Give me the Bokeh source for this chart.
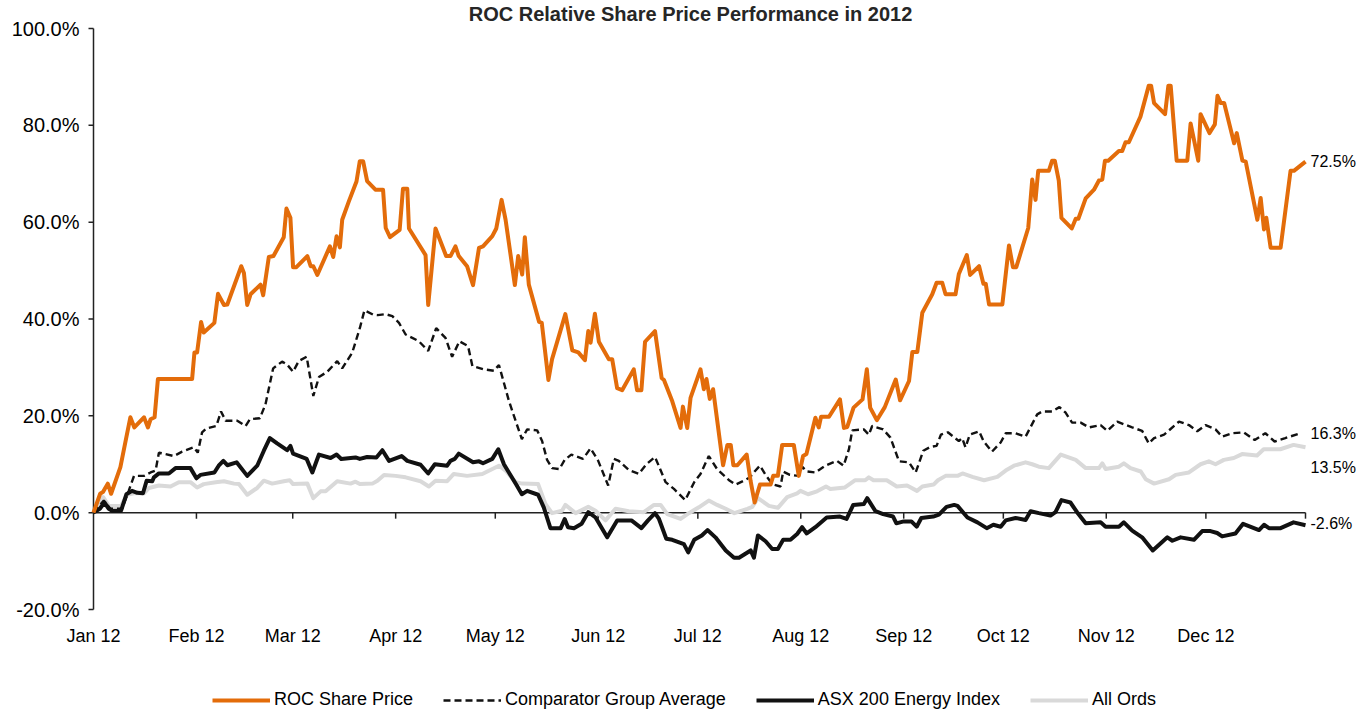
from datetime import date

from bokeh.plotting import figure
from bokeh.models import Range1d, Legend, LegendItem, ColumnDataSource
from bokeh.embed import file_html
from bokeh.resources import INLINE

FONT = "Liberation Sans"

# ---------------- axis categories ----------------
YEAR_START = date(2012, 1, 1)
YEAR_END = date(2012, 12, 31)
MONTH_STARTS = [date(2012, m, 1) for m in range(1, 13)]
month_days = [(d - YEAR_START).days for d in MONTH_STARTS]
month_labels = [d.strftime("%b %y") for d in MONTH_STARTS]
end_day = (YEAR_END - YEAR_START).days
y_ticks = [-20, 0, 20, 40, 60, 80, 100]
y_tick_labels = [f"{t:.1f}%" for t in y_ticks]
y_lo, y_hi = -20, 100

# ---------------- series (day of year since 1 Jan 2012, % change) ----------------
roc_day = [0, 2.0, 2.9, 4.3, 5.3, 8.1, 9.9, 11.1, 12.3, 15.2, 16.4, 17.2, 18.4, 19.4, 29.7, 30.4, 31.2,
           32.4, 33.2, 36.4, 37.5, 39.3, 40.3, 44.5, 45.3, 46.3, 47.3, 50.3, 51.1, 52.8, 54.2, 57.3,
           58.1, 59.3, 60.1, 61.1, 64.4, 65.4, 66.2, 67.4, 71.2, 72.2, 73.2, 74.2, 74.9, 76.9, 79.2,
           80.2, 81.2, 82.4, 84.9, 87.2, 88.0, 89.3, 92.2, 93.2, 94.5, 95.0, 100.0, 100.8, 103.0,
           106.2, 107.5, 109.0, 110.0, 112.5, 114.3, 116.1, 117.3, 120.1, 121.3, 122.9, 124.1, 126.9,
           127.9, 129.1, 129.9, 131.1, 134.2, 135.0, 137.0, 138.1, 142.1, 144.2, 146.0, 148.0, 149.0,
           149.7, 151.0, 152.2, 155.2, 156.2, 157.7, 159.2, 162.7, 163.7, 165.0, 166.1, 169.1, 171.1,
           171.8, 174.3, 176.8, 177.5, 178.8, 179.8, 182.8, 183.8, 184.6, 185.6, 186.6, 189.6, 190.9,
           191.9, 192.7, 193.9, 196.7, 197.9, 199.1, 200.7, 203.9, 204.7, 206.1, 207.4, 210.9, 212.4,
           213.7, 214.7, 217.4, 218.4, 219.1, 221.5, 224.8, 226.0, 227.0, 228.9, 231.6, 232.9, 233.9,
           235.9, 238.3, 241.6, 242.9, 245.6, 246.6, 248.1, 249.6, 252.6, 253.9, 255.6, 256.6, 259.6,
           260.6, 263.0, 264.0, 266.7, 268.0, 268.7, 269.7, 273.7, 275.7, 276.9, 277.9, 281.5, 282.7,
           283.7, 284.5, 287.7, 288.7, 289.5, 290.7, 291.5, 294.6, 295.8, 296.6, 298.8, 301.3, 302.8,
           303.8, 304.6, 305.6, 308.8, 309.8, 310.8, 311.8, 315.3, 317.8, 318.5, 319.4, 322.7, 323.7,
           324.4, 326.2, 329.4, 330.4, 332.7, 333.4, 336.1, 337.7, 338.5, 339.5, 340.5, 343.5, 344.3,
           346.0, 347.0, 350.5, 351.5, 352.5, 353.2, 354.5, 357.5, 360.5, 361.5, 365.0]
roc_val = [0, 3.9, 4.3, 6.0, 3.9, 9.4, 15.6, 19.7, 17.6, 19.7, 17.6, 19.3, 19.7, 27.6, 27.6, 33.1, 33.1,
           39.4, 37.2, 39.2, 45.2, 42.9, 43.0, 50.9, 49.5, 42.9, 45.1, 47.1, 44.9, 52.8, 53.0, 56.9,
           62.8, 60.9, 50.7, 50.7, 53.0, 50.9, 50.9, 49.1, 55.0, 52.8, 57.1, 54.8, 60.5, 64.3, 68.4,
           72.6, 72.6, 68.5, 66.7, 66.7, 58.8, 56.9, 58.4, 66.9, 66.9, 58.7, 53.2, 42.9, 58.7,
           53.0, 53.0, 55.0, 53.0, 50.9, 47.0, 54.7, 55.0, 57.1, 58.7, 64.6, 60.5, 47.0,
           53.0, 49.2, 56.9, 47.1, 39.4, 39.2, 27.4, 31.7, 41.0, 33.5, 33.1, 31.5, 37.5,
           35.1, 41.1, 35.3, 31.7, 31.7, 25.7, 25.3, 29.6, 25.3, 25.3, 35.3, 37.5, 27.8,
           27.4, 23.0, 17.5, 21.9, 17.5, 23.7, 29.6, 25.5, 27.6, 23.5, 25.5, 9.8, 14.0,
           14.0, 9.8, 9.8, 12.0, 6.5, 2.1, 5.8, 5.8, 7.6, 7.6, 14.0, 14.0, 7.6,
           11.7, 12.1, 19.6, 17.6, 19.8, 19.8, 23.4, 17.5, 17.7, 21.7, 23.4, 29.6, 21.7,
           19.1, 21.8, 27.5, 23.2, 27.2, 33.2, 33.2, 41.3, 45.1, 47.5, 47.5, 45.1, 45.1,
           49.3, 53.2, 49.1, 50.9, 47.3, 47.3, 43.0, 43.0, 55.2, 50.7, 50.7, 58.8, 68.8,
           64.6, 70.6, 70.6, 72.7, 72.7, 68.6, 60.9, 58.7, 60.7, 60.7, 64.9, 66.7, 68.6,
           68.8, 72.7, 72.7, 74.7, 74.7, 76.5, 76.5, 81.8, 88.2, 88.2, 84.6, 82.3, 88.2,
           88.2, 72.7, 72.7, 80.4, 72.7, 82.3, 78.4, 80.2, 86.1, 84.6, 84.6, 76.3, 78.4,
           72.7, 72.5, 60.5, 65.0, 58.5, 60.9, 54.7, 54.7, 70.6, 70.6, 72.5]

comp_day = [0, 3.1, 5.1, 8.6, 10.6, 12.2, 15.2, 17.2, 18.7, 19.7, 24.2, 26.7, 30.2, 31.4, 32.7, 34.0,
            37.0, 38.4, 39.8, 43.3, 45.8, 47.1, 50.1, 51.8, 54.1, 56.8, 58.3, 60.1, 61.8, 64.2, 66.2,
            67.9, 70.4, 73.4, 74.9, 77.9, 80.2, 81.6, 84.2, 85.6, 88.0, 90.0, 92.0, 94.0, 98.0, 100.8,
            103.2, 106.0, 108.0, 110.2, 112.8, 114.1, 117.6, 120.6, 122.1, 125.1, 127.3, 129.0, 130.6,
            133.6, 135.1, 136.6, 138.1, 140.3, 141.9, 143.9, 147.4, 149.7, 152.0, 155.0, 156.7, 158.2,
            161.2, 164.2, 166.5, 169.1, 172.3, 174.8, 178.2, 180.9, 182.8, 185.3, 187.8, 191.4, 193.4,
            195.9, 197.7, 199.1, 200.7, 202.4, 204.4, 206.9, 207.7, 209.7, 212.4, 213.4, 214.9, 217.4,
            220.4, 223.9, 225.9, 227.5, 228.5, 232.0, 233.5, 234.5, 237.8, 240.0, 242.6, 245.6, 247.6,
            249.9, 252.1, 253.9, 255.2, 257.3, 260.6, 261.6, 262.6, 263.9, 266.7, 268.1, 270.6, 273.2,
            274.7, 277.7, 280.7, 284.2, 285.7, 288.7, 290.9, 292.7, 294.7, 297.3, 299.8, 303.3, 305.3,
            308.3, 312.8, 315.8, 317.8, 319.4, 322.4, 326.9, 329.9, 332.4, 334.9, 337.9, 339.9, 342.9,
            346.4, 349.7, 352.9, 355.7, 358.9, 363.0]
comp_val = [0, 2.5, 0.8, 0.8, 4.5, 7.6, 7.6, 8.3, 8.7, 12.4, 11.7, 12.6, 13.5, 12.4, 16.6, 17.4,
            17.9, 20.9, 19.0, 19.0, 17.9, 19.3, 19.5, 22.4, 29.8, 31.2, 30.6, 29.1, 31.3, 32.2, 24.1,
            28.0, 29.1, 31.3, 29.8, 33.0, 38.1, 41.8, 40.9, 40.8, 41.0, 40.6, 39.2, 36.8, 35.4, 33.4,
            38.1, 36.1, 32.2, 35.4, 34.4, 30.3, 29.6, 29.3, 30.5, 23.1, 18.6, 15.2, 17.2,
            17.0, 14.8, 10.9, 9.2, 9.0, 10.9, 12.0, 11.1, 13.3, 10.7, 5.6, 11.1, 10.7,
            8.8, 8.0, 10.0, 11.5, 6.3, 4.9, 2.6, 6.3, 8.0, 11.7, 9.0, 6.7, 5.8,
            6.6, 7.3, 8.5, 9.7, 7.8, 5.9, 5.4, 8.5, 7.8, 7.6, 9.5, 8.5, 8.3,
            9.7, 10.7, 9.7, 13.1, 17.0, 17.2, 16.1, 17.9, 17.2, 15.5, 10.6, 10.4, 8.3,
            12.8, 13.6, 13.8, 16.1, 16.6, 14.8, 15.4, 13.5, 16.1, 16.8, 14.7, 12.6, 14.5,
            16.4, 16.4, 15.7, 20.3, 20.9, 20.9, 21.8, 20.7, 18.6, 18.6, 17.6, 18.1, 16.9,
            18.8, 17.6, 16.9, 14.3, 15.4, 16.1, 18.8, 18.1, 16.8, 18.1, 17.2, 15.7, 16.4,
            16.6, 15.0, 16.4, 14.7, 15.4, 16.3]

asx_day = [0, 1.9, 3.3, 4.6, 5.6, 8.3, 9.9, 11.6, 13.2, 14.9, 16.0, 17.7, 18.2, 19.7, 22.7, 24.7, 29.2,
           31.0, 32.2, 36.4, 37.7, 39.1, 40.3, 43.1, 46.3, 49.3, 51.3, 53.1, 55.3, 58.3, 59.3, 60.1,
           64.2, 65.9, 67.9, 71.4, 73.2, 74.6, 78.9, 80.2, 82.4, 85.2, 87.0, 89.0, 92.8, 94.5, 98.5,
           100.8, 102.8, 106.5, 107.5, 108.8, 110.0, 114.3, 116.1, 117.3, 120.1, 121.9, 123.6, 125.1,
           127.3, 129.0, 130.6, 133.9, 135.6, 137.6, 140.7, 141.9, 142.9, 144.7, 147.0, 149.0, 151.2,
           154.7, 157.7, 162.0, 165.0, 167.0, 169.1, 170.3, 172.5, 174.3, 177.8, 179.1, 180.9, 183.2,
           184.9, 187.3, 190.4, 192.9, 194.4, 197.9, 198.9, 200.1, 202.4, 204.4, 206.1, 207.7, 209.9,
           211.9, 213.4, 214.8, 217.4, 220.8, 224.8, 226.8, 228.8, 232.0, 233.0, 235.5, 237.8, 240.8,
           241.8, 244.0, 246.3, 247.9, 249.3, 252.9, 254.6, 256.9, 259.2, 260.2, 263.2, 266.2, 269.0,
           271.0, 273.2, 274.7, 277.7, 280.7, 282.2, 284.7, 288.2, 289.7, 291.5, 294.2, 296.2, 298.8,
           303.3, 304.8, 308.8, 310.3, 312.8, 315.8, 319.0, 323.4, 324.9, 327.4, 331.4, 333.9, 336.4,
           338.4, 339.9, 343.9, 346.2, 351.0, 352.5, 354.0, 357.5, 361.4, 365.0]
asx_val = [0, 0.8, 2.1, 0.8, 0.4, 0.4, 3.8, 4.5, 4.1, 4.0, 6.6, 6.5, 7.3, 8.1, 8.1, 9.2, 9.2,
           7.1, 7.8, 8.3, 9.7, 10.7, 9.8, 10.4, 7.6, 9.7, 12.8, 15.4, 14.3, 12.9, 13.8, 12.2,
           11.1, 8.3, 12.0, 11.3, 12.0, 11.1, 11.4, 11.1, 11.5, 11.4, 12.9, 10.7, 11.7, 10.7, 9.9,
           8.1, 10.0, 9.7, 10.7, 11.1, 12.2, 10.4, 10.6, 10.2, 11.1, 13.1, 10.0, 8.3,
           5.8, 3.8, 4.5, 3.7, 1.1, -3.2, -3.2, -1.3, -3.0, -3.2, -2.3, 0.1, -1.0,
           -5.1, -1.6, -1.6, -3.2, -1.6, -0.1, -1.3, -5.4, -5.6, -6.5, -8.2, -5.6, -4.7,
           -3.6, -5.1, -7.8, -9.3, -9.3, -7.8, -9.3, -4.7, -5.9, -7.5, -7.5, -5.6, -5.6,
           -4.4, -3.0, -4.3, -3.0, -1.0, -0.8, -1.3, 1.6, 1.8, 3.0, 0.3, -0.3, -0.8,
           -2.2, -1.8, -1.8, -2.9, -1.1, -0.8, -0.4, 1.2, 1.6, 1.4, -1.0, -2.0, -3.2,
           -2.5, -2.9, -1.6, -1.1, -1.5, 0.3, -0.1, -0.6, 0.1, 2.6, 2.1, 0.1, -2.2,
           -2.0, -2.9, -2.9, -2.0, -3.7, -5.1, -7.8, -5.1, -5.8, -5.1, -5.6, -3.8, -3.8,
           -4.2, -4.9, -4.3, -2.3, -3.6, -2.5, -3.2, -3.2, -2.0, -2.6]

ords_day = [0, 2.9, 4.6, 8.3, 10.1, 12.2, 15.2, 16.7, 19.7, 23.2, 25.7, 29.2, 31.2, 33.2, 36.8, 39.3,
            42.3, 43.8, 46.3, 49.3, 51.3, 53.8, 57.3, 59.1, 60.1, 64.4, 66.2, 68.4, 69.9, 73.4, 77.4,
            78.9, 80.2, 84.0, 85.5, 87.5, 91.0, 94.0, 98.5, 101.0, 103.0, 106.5, 108.5, 112.5, 117.1,
            122.1, 124.1, 127.1, 129.1, 133.9, 136.1, 138.1, 141.1, 142.1, 145.2, 149.0, 151.2, 154.2,
            157.2, 161.2, 165.7, 168.8, 170.8, 172.8, 176.8, 179.3, 182.3, 185.3, 187.8, 190.4, 193.0,
            196.9, 198.4, 200.1, 203.4, 206.1, 208.9, 211.9, 212.9, 215.2, 217.9, 220.6, 221.9, 226.3,
            229.4, 232.4, 233.5, 234.9, 238.9, 241.9, 245.0, 248.0, 249.6, 253.0, 254.3, 256.6, 260.2,
            261.7, 264.7, 268.2, 272.2, 274.7, 277.2, 280.7, 282.7, 284.7, 287.7, 291.3, 295.8, 298.8,
            302.8, 303.8, 304.8, 308.8, 310.3, 312.3, 315.4, 316.9, 319.4, 323.9, 325.9, 329.9, 333.4,
            335.9, 337.9, 340.4, 343.4, 345.9, 350.4, 352.4, 357.4, 361.4, 365.0]
ords_val = [0, 3.2, 1.4, 1.4, 3.7, 4.0, 4.0, 5.1, 5.6, 5.4, 6.3, 6.3, 5.2, 5.9, 6.3, 6.5,
            6.0, 5.9, 3.7, 5.1, 6.6, 6.0, 6.5, 6.7, 5.9, 6.0, 3.0, 4.4, 4.4, 6.5, 6.0,
            6.4, 5.9, 6.0, 6.6, 7.8, 7.6, 7.3, 6.5, 5.4, 6.6, 6.5, 8.0, 7.6, 8.0,
            9.7, 8.7, 6.3, 6.0, 5.9, 1.8, -0.1, 0.4, 1.6, -0.1, 1.2, 0.4, -1.6,
            0.8, 0.3, 0.1, 1.6, 1.6, -0.3, -1.3, -0.1, 1.1, 2.5, 1.6, 0.8, -0.1,
            0.8, 1.2, 3.0, 1.4, 1.0, 3.2, 4.0, 4.5, 3.8, 4.4, 5.4, 4.9, 5.2,
            6.7, 6.7, 7.3, 6.7, 6.7, 5.4, 5.6, 4.5, 5.4, 5.8, 6.7, 7.6, 7.6,
            8.1, 7.4, 6.7, 7.4, 8.7, 9.7, 10.4, 10.0, 9.5, 9.2, 12.0, 10.9, 9.2,
            9.2, 10.2, 9.0, 9.5, 10.2, 9.2, 8.5, 6.9, 6.0, 6.9, 7.8, 8.3, 10.0,
            10.6, 10.0, 10.9, 11.3, 12.1, 11.8, 13.1, 13.1, 14.0, 13.5]

series_names = ["ROC Share Price", "Comparator Group Average", "ASX 200 Energy Index", "All Ords"]
chart_title = "ROC Relative Share Price Performance in 2012"

ORANGE = "#E36C0A"
BLACK = "#111111"
GREY = "#D9D9D9"
AXIS = "#222222"

# ---------------- layout (pixels) ----------------
W, H = 1356, 712
LEFT, TOP = 93, 28                   # position of the (Jan 1, 100%) corner
PLOT_W, PLOT_H = 1212, 581           # size of the year x (-20..100%) box
px_day = PLOT_W / end_day
px_unit = PLOT_H / (y_hi - y_lo)
x_min = -LEFT / px_day
x_max = x_min + W / px_day
y_max = y_hi + TOP / px_unit
y_min = y_max - H / px_unit

p = figure(frame_width=W, frame_height=H,
           x_range=Range1d(x_min, x_max), y_range=Range1d(y_min, y_max),
           x_axis_type=None, y_axis_type=None,
           output_backend="svg", toolbar_location=None,
           min_border=0, outline_line_color=None,
           background_fill_color="white", border_fill_color="white")

txt = dict(text_font={"value": FONT}, text_color="black")

# ---- title ----
p.text(x=[end_day / 2], y=[y_hi], text=[chart_title], x_offset=-9, y_offset=-15,
       text_align="center", text_baseline="middle", text_font_size={"value": "20px"},
       text_font_style="bold", text_font={"value": FONT}, text_color="#262626")

# ---- y axis: line, outward ticks, labels ----
p.segment(x0=[0], y0=[y_lo], x1=[0], y1=[y_hi], line_color=AXIS, line_width=1.5)
ytick_len = 5 / px_day
p.segment(x0=[-ytick_len] * len(y_ticks), y0=y_ticks, x1=[0] * len(y_ticks), y1=y_ticks,
          line_color=AXIS, line_width=1.5)
p.text(x=[0] * len(y_ticks), y=y_ticks, text=y_tick_labels, x_offset=-14,
       text_align="right", text_baseline="middle", text_font_size={"value": "20px"}, **txt)

# ---- x axis: zero line with month ticks hanging below, labels under -20% ----
tick_len = 6 / px_unit
tick_days = month_days[1:] + [end_day]
p.segment(x0=[0], y0=[0], x1=[end_day], y1=[0], line_color=AXIS, line_width=1.5)
p.segment(x0=tick_days, y0=[0] * len(tick_days), x1=tick_days, y1=[-tick_len] * len(tick_days),
          line_color=AXIS, line_width=1.5)
p.text(x=month_days, y=[y_lo] * len(month_days), text=month_labels, y_offset=26,
       text_align="center", text_baseline="middle", text_font_size={"value": "18px"}, **txt)

# ---- series ----
r_ords = p.line(ords_day, ords_val, line_color=GREY, line_width=4, line_join="round")
r_asx = p.line(asx_day, asx_val, line_color=BLACK, line_width=4, line_join="round")
r_comp = p.line(comp_day, comp_val, line_color=BLACK, line_width=2.4, line_dash="7 4")
r_roc = p.line(roc_day, roc_val, line_color=ORANGE, line_width=4, line_join="round")

# ---- end-of-series labels ----
last_vals = [roc_val[-1], comp_val[-1], ords_val[-1], asx_val[-1]]
end_src = ColumnDataSource(dict(x=[end_day] * 4, y=last_vals,
                                text=[f"{v:.1f}%" for v in last_vals],
                                dy=[0, 0, 20, -2]))
p.text(x="x", y="y", text="text", y_offset="dy", x_offset=5, source=end_src,
       text_align="left", text_baseline="middle", text_font_size={"value": "16px"}, **txt)

legend = Legend(items=[LegendItem(label=series_names[0], renderers=[r_roc]),
                       LegendItem(label=series_names[1], renderers=[r_comp]),
                       LegendItem(label=series_names[2], renderers=[r_asx]),
                       LegendItem(label=series_names[3], renderers=[r_ords])],
                orientation="horizontal", location=(212, 2),
                label_text_font=FONT, label_text_font_size="18px", label_text_color="black",
                glyph_width=58, glyph_height=20, spacing=30, label_standoff=4,
                border_line_color=None, background_fill_alpha=0, padding=0, margin=0)
p.add_layout(legend, "center")

open("out.html", "w").write(file_html(p, INLINE))
